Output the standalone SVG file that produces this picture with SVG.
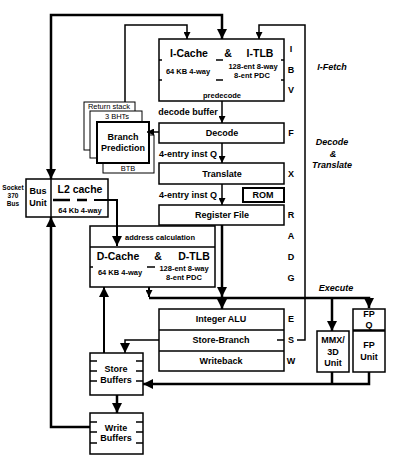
<svg xmlns="http://www.w3.org/2000/svg" width="400" height="470" viewBox="0 0 400 470">
<style>
text{font-family:"Liberation Sans",Arial,sans-serif;font-weight:bold;fill:#000;text-anchor:middle}
.b{fill:#fff;stroke:#000;stroke-width:1.5}
.bt{fill:#fff;stroke:#000;stroke-width:2}
.bn{fill:#fff;stroke:#000;stroke-width:1}
.ln{fill:none;stroke:#000;stroke-width:1.5}
.tk{fill:none;stroke:#000;stroke-width:2.5}
.md{fill:none;stroke:#000;stroke-width:2}
.t{font-size:9px}
.s{font-size:7.5px}
.L{font-size:10.5px}
.r{font-weight:normal;font-size:7.5px}
.i{font-style:italic;font-size:9px}
</style>
<defs>
<marker id="a" viewBox="0 0 10 10" refX="10" refY="5" markerWidth="7" markerHeight="7" markerUnits="userSpaceOnUse" orient="auto-start-reverse"><path d="M0,0 L10,5 L0,10 z"/></marker>
<marker id="A" viewBox="0 0 10 10" refX="10" refY="5" markerWidth="10" markerHeight="10" markerUnits="userSpaceOnUse" orient="auto-start-reverse"><path d="M0,0 L10,5 L0,10 z"/></marker>
</defs>
<rect width="400" height="470" fill="#fff"/>

<g id="icache">
<rect class="b" x="159" y="39" width="125" height="62"/>
<text class="L" x="189" y="57">I-Cache</text>
<text class="L" x="228" y="57">&amp;</text>
<text class="L" x="260" y="57">I-TLB</text>
<text class="s" x="188" y="74">64 KB 4-way</text>
<text class="s" x="253" y="69">128-ent 8-way</text>
<text class="s" x="252" y="78">8-ent PDC</text>
<text class="s" x="222" y="98">predecode</text>
<path class="ln" d="M159,60 h3 M159,80 h3 M281,60 h3 M281,80 h3 M216,60 h7 M216,80 h7"/>
</g>

<g id="decode">
<text class="t" x="188" y="115">decode buffer</text>
<rect class="b" x="159" y="123" width="125" height="20"/>
<text class="t" x="222" y="136">Decode</text>
</g>

<g id="translate">
<text class="t" x="188" y="157">4-entry inst Q</text>
<rect class="b" x="159" y="163" width="125" height="21"/>
<text class="t" x="222" y="177">Translate</text>
</g>

<g id="rom">
<rect class="bt" x="243" y="188" width="41" height="14"/>
<text class="t" x="263" y="198">ROM</text>
</g>

<g id="regfile">
<text class="t" x="188" y="198">4-entry inst Q</text>
<rect class="b" x="159" y="205" width="125" height="20"/>
<text class="t" x="222" y="218">Register File</text>
</g>

<g id="branch-pred">
<rect class="bn" x="84" y="102" width="51" height="48"/>
<text class="r" x="109" y="109">Return stack</text>
<rect class="bn" x="90" y="111" width="52" height="47"/>
<text class="r" x="117" y="119">3 BHTs</text>
<rect class="bn" x="103" y="135" width="51" height="38"/>
<text class="r" x="128" y="171">BTB</text>
<rect class="bt" x="97" y="122" width="52" height="41"/>
<text class="t" x="123" y="140">Branch</text>
<text class="t" x="123" y="151">Prediction</text>
</g>

<g id="bus-l2">
<rect class="b" x="26" y="179" width="82" height="38"/>
<path class="ln" d="M51,179 V217"/>
<text class="t" x="38" y="194">Bus</text>
<text class="t" x="38" y="206">Unit</text>
<text class="L" x="80" y="193">L2 cache</text>
<text class="s" x="80" y="213">64 Kb 4-way</text>
</g>

<g id="socket">
<text style="font-size:6.5px" x="13" y="190">Socket</text>
<text style="font-size:6.5px" x="13" y="198">370</text>
<text style="font-size:6.5px" x="13" y="206">Bus</text>
</g>

<g id="dcache">
<rect class="b" x="90" y="226" width="125" height="61"/>
<path class="ln" d="M90,247 H215"/>
<text class="s" x="160" y="240">address calculation</text>
<text class="L" x="118" y="260">D-Cache</text>
<text class="L" x="158" y="260">&amp;</text>
<text class="L" x="194" y="260">D-TLB</text>
<text class="s" x="120" y="275">64 KB 4-way</text>
<text class="s" x="184" y="271">128-ent 8-way</text>
<text class="s" x="184" y="280">8-ent PDC</text>
<path class="ln" d="M90,267 h3 M147,267 h8"/>
</g>

<g id="exec">
<rect class="b" x="159" y="309" width="125" height="62"/>
<path class="ln" d="M159,330 H284 M159,351 H284"/>
<text class="t" x="221" y="322">Integer ALU</text>
<text class="t" x="221" y="343">Store-Branch</text>
<text class="t" x="221" y="364">Writeback</text>
</g>

<g id="mmx">
<rect class="b" x="317" y="331" width="32" height="41"/>
<text class="t" x="333" y="343">MMX/</text>
<text class="t" x="333" y="355">3D</text>
<text class="t" x="333" y="366">Unit</text>
</g>

<g id="fp">
<rect class="b" x="353" y="309" width="32" height="63"/>
<path class="tk" d="M353,330.5 H385"/>
<text class="t" x="369" y="317">FP</text>
<text class="t" x="369" y="328">Q</text>
<text class="t" x="369" y="348">FP</text>
<text class="t" x="369" y="360">Unit</text>
</g>

<g id="store-buffers">
<rect class="b" x="90" y="353" width="53" height="42"/>
<path class="ln" d="M90,361 h7 M90,371 h7 M90,381 h7 M136,361 h7 M136,371 h7 M136,381 h7"/>
<text class="t" x="116" y="372">Store</text>
<text class="t" x="116" y="383">Buffers</text>
</g>

<g id="write-buffers">
<rect class="b" x="90" y="413" width="53" height="41"/>
<path class="ln" d="M90,422 h7 M90,432 h7 M90,443 h7 M136,422 h7 M136,432 h7 M136,443 h7"/>
<text class="t" x="116" y="431">Write</text>
<text class="t" x="116" y="441">Buffers</text>
</g>

<g id="stages">
<text class="t" x="291" y="52">I</text>
<text class="t" x="291" y="73">B</text>
<text class="t" x="291" y="93">V</text>
<text class="t" x="291" y="136">F</text>
<text class="t" x="291" y="177">X</text>
<text class="t" x="291" y="218">R</text>
<text class="t" x="291" y="239">A</text>
<text class="t" x="291" y="260">D</text>
<text class="t" x="291" y="281">G</text>
<text class="t" x="291" y="322">E</text>
<text class="t" x="291" y="343">S</text>
<text class="t" x="291" y="364">W</text>
</g>

<g id="phases">
<text class="i" x="332" y="70">I-Fetch</text>
<text class="i" x="332" y="145">Decode</text>
<text class="i" x="333" y="157">&amp;</text>
<text class="i" x="332" y="168">Translate</text>
<text class="i" x="336" y="291">Execute</text>
</g>

<g id="connectors">
<path class="tk" d="M51,179 V15 H222 V39" marker-start="url(#A)" marker-end="url(#A)"/>
<path class="tk" d="M90,427 H51 V217" marker-end="url(#A)"/>
<path class="ln" d="M125,102 V25 H187 V39" marker-end="url(#a)"/>
<path class="ln" d="M297,340 H305 V25 H259 V39" marker-end="url(#a)"/>
<path class="ln" d="M222,101 V123" marker-end="url(#a)"/>
<path class="ln" d="M222,143 V163" marker-end="url(#a)"/>
<path class="ln" d="M222,184 V205" marker-end="url(#a)"/>
<path class="ln" d="M159,132 H147" marker-end="url(#a)"/>
<path class="tk" d="M53,200 H94" stroke-dasharray="17 7 10 7"/>
<path class="md" d="M94,200 H117 V246" marker-end="url(#A)"/>
<path class="tk" d="M222,225 V297" marker-end="url(#A)"/>
<path class="tk" d="M222,298 V309" marker-end="url(#A)"/>
<path class="md" d="M149,287 V297" marker-end="url(#a)"/>
<path class="tk" d="M149,298 H369 V308" marker-end="url(#A)"/>
<path class="tk" d="M332,298 V331" marker-end="url(#A)"/>
<path class="ln" d="M159,340 H125 V353" marker-end="url(#A)"/>
<path class="md" d="M104,353 V287" marker-end="url(#A)"/>
<path class="tk" d="M117,395 V413" marker-end="url(#A)"/>
<path class="tk" d="M332,372 V384 M369,372 V384 H143" marker-end="url(#A)"/>
<path class="ln" d="M277,340 H284"/>
</g>
</svg>
